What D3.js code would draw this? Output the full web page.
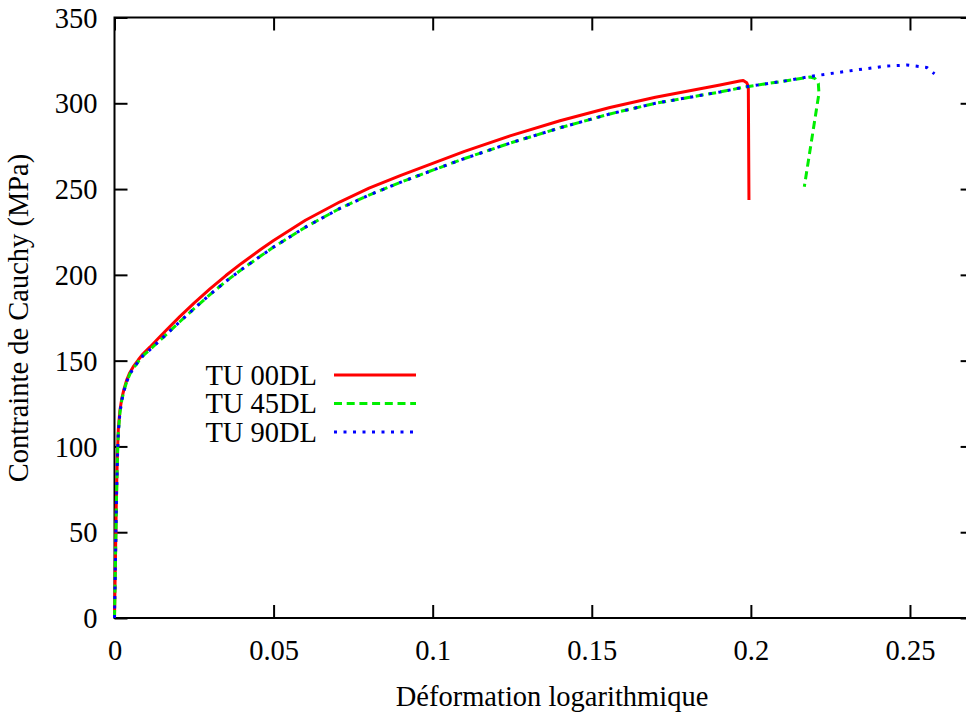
<!DOCTYPE html>
<html>
<head>
<meta charset="utf-8">
<script src="https://cdn.jsdelivr.net/npm/d3@7"></script>
<style>
html,body{margin:0;padding:0;background:#fff;overflow:hidden;}
text{font-family:"Liberation Serif","Times New Roman",serif;fill:#000;}
</style>
</head>
<body>
<svg id="chart" width="966" height="722"></svg>
<script>
// ---- data (strain, Cauchy stress MPa) ----
const seriesNames = ["TU 00DL", "TU 45DL", "TU 90DL"];
const seriesColors = ["#ff0000", "#00ee00", "#0000ff"];
const tu00 = [[0,0],[0.0003,35],[0.0006,70],[0.0009,95],[0.0012,110],[0.0017,121],[0.0023,128],[0.003,133.5],[0.0038,138.5],[0.0048,143],[0.0059,146.5],[0.0075,150.5],[0.009,154],[0.0112,158],[0.0135,162.5],[0.0164,168],[0.0206,175.8],[0.025,183.5],[0.03,191.8],[0.035,199.6],[0.04,206.8],[0.0458,214.6],[0.05,220],[0.06,231.8],[0.0709,242.6],[0.08,250.5],[0.09,258],[0.1,265],[0.11,272],[0.1243,281],[0.14,289.8],[0.1557,297.5],[0.17,303.5],[0.1903,310.7],[0.1965,313],[0.1976,313.3],[0.1987,312],[0.1992,309.7],[0.1994,243.6]];
const tu45 = [[0,0],[0.0003,33],[0.0006,67],[0.0009,92],[0.0012,108],[0.0017,119.5],[0.0023,127],[0.003,132.5],[0.0038,137.5],[0.0048,142],[0.0059,145.5],[0.0075,149.5],[0.009,153],[0.0112,156.5],[0.0135,160.5],[0.0164,165.5],[0.0206,172.8],[0.025,180.3],[0.03,188.5],[0.035,196.2],[0.04,203.2],[0.0458,210.8],[0.05,216.2],[0.06,227.8],[0.0709,238.8],[0.08,246.5],[0.09,254],[0.1,261],[0.11,267.8],[0.1243,276.8],[0.14,285.7],[0.1557,293.8],[0.17,300],[0.1903,306.6],[0.1987,309.7],[0.21,312.8],[0.2186,315.3],[0.2201,314.5],[0.2212,311.6],[0.2214,305.8],[0.2168,251.4]];
const tu90 = [[0,0],[0.0003,33],[0.0006,67],[0.0009,92],[0.0012,108],[0.0017,119.5],[0.0023,127],[0.003,132.5],[0.0038,137.5],[0.0048,142],[0.0059,145.5],[0.0075,149.5],[0.009,153],[0.0112,156.5],[0.0135,160.5],[0.0164,165.5],[0.0206,172.8],[0.025,180.3],[0.03,188.5],[0.035,196.2],[0.04,203.2],[0.0458,210.8],[0.05,216.2],[0.06,227.8],[0.0709,238.8],[0.08,246.5],[0.09,254],[0.1,261],[0.11,267.8],[0.1243,276.8],[0.14,285.7],[0.1557,293.8],[0.17,300],[0.1903,306.6],[0.1987,309.7],[0.21,312.8],[0.2196,315.9],[0.233,319.4],[0.2427,321.7],[0.249,322.3],[0.2553,320.9],[0.2577,317.1]];
const xTicks = [0, 0.05, 0.1, 0.15, 0.2, 0.25];
const xTickLabels = ["0", "0.05", "0.1", "0.15", "0.2", "0.25"];
const yTicks = [0, 50, 100, 150, 200, 250, 300, 350];
const xTitle = "Déformation logarithmique";
const yTitle = "Contrainte de Cauchy (MPa)";

// ---- layout ----
const L = 114.5, T = 17.5, B = 618, R = 973.6;
const FS = 28.5;
const svg = d3.select("#chart");
const x = d3.scaleLinear().domain([0, 0.27]).range([L, R]);
const y = d3.scaleLinear().domain([0, 350]).range([B, T]);
const tickLen = 13;

// frame
svg.append("rect").attr("x", L).attr("y", T).attr("width", R - L).attr("height", B - T)
  .attr("fill", "none").attr("stroke", "#000").attr("stroke-width", 2);

// axes with inward ticks
const gx = svg.append("g").attr("transform", `translate(0,${B})`)
  .call(d3.axisBottom(x).tickValues(xTicks).tickFormat((d, i) => xTickLabels[i]).tickSizeInner(-tickLen).tickSizeOuter(0).tickPadding(22));
const gxt = svg.append("g").attr("transform", `translate(0,${T})`)
  .call(d3.axisTop(x).tickValues(xTicks).tickFormat("").tickSizeInner(-tickLen).tickSizeOuter(0));
const gy = svg.append("g").attr("transform", `translate(${L},0)`)
  .call(d3.axisLeft(y).tickValues(yTicks).tickFormat(d3.format("d")).tickSizeInner(-tickLen).tickSizeOuter(0).tickPadding(17));
const gyr = svg.append("g").attr("transform", `translate(${R},0)`)
  .call(d3.axisRight(y).tickValues(yTicks).tickFormat("").tickSizeInner(-tickLen).tickSizeOuter(0));
[gx, gxt, gy, gyr].forEach(g => {
  g.select(".domain").remove();
  g.selectAll(".tick line").attr("stroke", "#000").attr("stroke-width", 2);
  g.selectAll("text").attr("font-family", "Liberation Serif").attr("font-size", FS).attr("fill", "#000");
});
gx.selectAll("text").attr("dy", "0.71em");
gy.selectAll("text").attr("dy", "0.34em");

// titles
svg.append("text").attr("x", 552).attr("y", 706).attr("text-anchor", "middle")
  .attr("font-size", FS).text(xTitle);
svg.append("text").attr("transform", `translate(28,318) rotate(-90)`).attr("text-anchor", "middle")
  .attr("font-size", FS).text(yTitle);

// curves
const line = d3.line().x(d => x(d[0])).y(d => y(d[1])).curve(d3.curveLinear);
const dashes = [null, "8,4.7", "3,6.5"];
const allData = [tu00, tu45, tu90];
allData.forEach((data, i) => {
  svg.append("path").datum(data).attr("d", line).attr("fill", "none")
    .attr("stroke", seriesColors[i]).attr("stroke-width", 3)
    .attr("stroke-linejoin", "round")
    .attr("stroke-dasharray", dashes[i]);
});

// legend
const legY = [375, 403.5, 432];
seriesNames.forEach((name, i) => {
  svg.append("text").attr("x", 317).attr("y", legY[i]).attr("dy", "0.34em")
    .attr("text-anchor", "end").attr("font-size", FS).text(name);
  svg.append("line").attr("x1", 334).attr("x2", 416).attr("y1", legY[i]).attr("y2", legY[i])
    .attr("stroke", seriesColors[i]).attr("stroke-width", 3)
    .attr("stroke-dasharray", dashes[i]);
});
</script>
</body>
</html>
